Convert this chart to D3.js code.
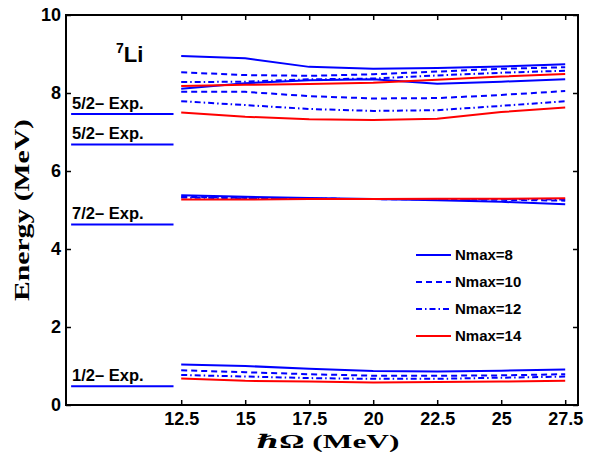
<!DOCTYPE html>
<html><head><meta charset="utf-8">
<script src="https://cdn.jsdelivr.net/npm/d3@7"></script>
<style>body{margin:0;background:#fff}</style>
</head><body><svg id="c" width="594" height="456"></svg>
<script>
const hw = [12.5, 15, 17.5, 20, 22.5, 25, 27.5];
const xTicks = [12.5, 15, 17.5, 20, 22.5, 25, 27.5];
const yTicks = [0, 2, 4, 6, 8, 10];
const seriesNames = ["Nmax=8", "Nmax=10", "Nmax=12", "Nmax=14"];
// each state: values for Nmax=8,10,12,14
const ground = [
  [1.04, 1.00, 0.93, 0.87, 0.86, 0.88, 0.91],
  [0.89, 0.84, 0.79, 0.75, 0.75, 0.76, 0.79],
  [0.77, 0.73, 0.69, 0.67, 0.67, 0.70, 0.73],
  [0.68, 0.62, 0.60, 0.58, 0.59, 0.60, 0.62]
];
const state72 = [
  [5.38, 5.34, 5.31, 5.28, 5.25, 5.21, 5.15],
  [5.34, 5.31, 5.29, 5.28, 5.27, 5.26, 5.24],
  [5.32, 5.30, 5.29, 5.28, 5.28, 5.28, 5.27],
  [5.27, 5.27, 5.28, 5.28, 5.29, 5.29, 5.30]
];
const state52a = [
  [8.11, 8.25, 8.33, 8.35, 8.24, 8.29, 8.35],
  [8.03, 8.03, 7.92, 7.86, 7.87, 7.95, 8.05],
  [7.79, 7.69, 7.59, 7.54, 7.56, 7.67, 7.79],
  [7.50, 7.39, 7.33, 7.31, 7.34, 7.51, 7.63]
];
const state52b = [
  [8.95, 8.89, 8.67, 8.62, 8.64, 8.68, 8.74],
  [8.53, 8.46, 8.44, 8.48, 8.55, 8.62, 8.66],
  [8.28, 8.29, 8.35, 8.37, 8.45, 8.52, 8.57],
  [8.18, 8.21, 8.23, 8.26, 8.34, 8.42, 8.49]
];
const expLevels = [0.478, 4.63, 6.68, 7.46];
const expLabels = ["1/2\u2013 Exp.", "7/2\u2013 Exp.", "5/2\u2013 Exp.", "5/2\u2013 Exp."];
const expRange = [8.2, 12.2];

const colors = ["#0000ff", "#0000ff", "#0000ff", "#ff0000"];
const dashes = [null, "6,4", "6,3,1.5,3", null];

const svg = d3.select("#c");
const L = 66, R = 578, T = 15, B = 405;
const x = d3.scaleLinear().domain([8, 28]).range([L, R]);
const y = d3.scaleLinear().domain([0, 10]).range([B, T]);
const font = "'Liberation Sans', Arial, sans-serif";
const serif = "'Liberation Serif', 'DejaVu Serif', serif";

// data lines
const line = d3.line().x((d, i) => x(hw[i])).y(d => y(d));
const states = [ground, state72, state52a, state52b];
states.forEach(st => {
  st.forEach((vals, si) => {
    svg.append("path").attr("d", line(vals)).attr("fill", "none")
      .attr("stroke", colors[si]).attr("stroke-width", 2)
      .attr("stroke-dasharray", dashes[si]);
  });
});

// experimental levels
expLevels.forEach((e, i) => {
  svg.append("line").attr("x1", x(expRange[0])).attr("x2", x(expRange[1]))
    .attr("y1", y(e)).attr("y2", y(e)).attr("stroke", "#0000ff").attr("stroke-width", 2);
  svg.append("text").attr("x", x(expRange[0]) + 1).attr("y", y(e) - 5)
    .attr("font-family", font).attr("font-weight", "bold").attr("font-size", 16.5)
    .text(expLabels[i]);
});

// axes
const gB = svg.append("g").attr("transform", `translate(0,${B})`)
  .call(d3.axisBottom(x).tickValues(xTicks).tickSize(-5).tickPadding(7).tickFormat(d3.format("")));
const gT = svg.append("g").attr("transform", `translate(0,${T})`)
  .call(d3.axisTop(x).tickValues(xTicks).tickSize(-5).tickFormat(""));
const gL = svg.append("g").attr("transform", `translate(${L},0)`)
  .call(d3.axisLeft(y).tickValues(yTicks).tickSize(-5).tickPadding(5));
const gR = svg.append("g").attr("transform", `translate(${R},0)`)
  .call(d3.axisRight(y).tickValues(yTicks).tickSize(-5).tickFormat(""));
[gB, gT, gL, gR].forEach(g => {
  g.select(".domain").remove();
  g.selectAll("line").attr("stroke", "#000").attr("stroke-width", 1.5);
  g.selectAll("text").attr("font-family", font).attr("font-weight", "bold")
    .attr("font-size", 18).attr("fill", "#000");
});
svg.append("rect").attr("x", L).attr("y", T).attr("width", R - L).attr("height", B - T)
  .attr("fill", "none").attr("stroke", "#000").attr("stroke-width", 2);

// axis labels
svg.append("text").attr("x", 328).attr("y", 448).attr("text-anchor", "middle")
  .attr("font-family", serif).attr("font-weight", "bold").attr("font-size", 19)
  .attr("textLength", 143).attr("lengthAdjust", "spacingAndGlyphs")
  .text("\u210F\u03A9 (MeV)");
svg.append("text").attr("transform", "translate(29,210) rotate(-90)").attr("text-anchor", "middle")
  .attr("font-family", serif).attr("font-weight", "bold").attr("font-size", 20)
  .attr("textLength", 182).attr("lengthAdjust", "spacingAndGlyphs")
  .text("Energy (MeV)");

// title
const t = svg.append("text").attr("x", 116).attr("y", 62)
  .attr("font-family", font).attr("font-weight", "bold").attr("font-size", 22);
t.append("tspan").attr("font-size", 14).attr("dy", -9).text("7");
t.append("tspan").attr("dy", 9).text("Li");

// legend
seriesNames.forEach((n, i) => {
  const yy = 255 + i * 27;
  svg.append("line").attr("x1", 416).attr("x2", 451).attr("y1", yy).attr("y2", yy)
    .attr("stroke", colors[i]).attr("stroke-width", 2).attr("stroke-dasharray", dashes[i]);
  svg.append("text").attr("x", 455).attr("y", yy + 5).attr("font-family", font)
    .attr("font-weight", "bold").attr("font-size", 15).text(n);
});
</script></body></html>
